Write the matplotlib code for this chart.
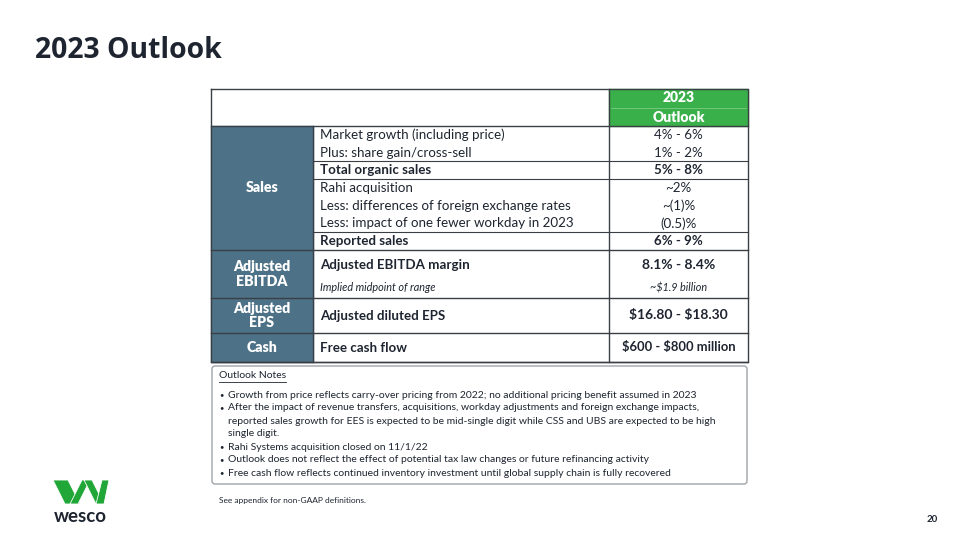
"""Recreates the 2023 Outlook slide table."""

import matplotlib.pyplot as plt
from matplotlib.patches import FancyBboxPatch, Polygon, Rectangle

plt.rcParams['font.family'] = ['Lato', 'DejaVu Sans']
plt.rcParams['text.parse_math'] = False

# Data
TITLE = '2023 Outlook'
HEADER = ['2023', 'Outlook']
GROUPS = ['Sales', 'Adjusted\nEBITDA', 'Adjusted\nEPS', 'Cash']
SALES_ITEMS = ['Market growth (including price)',
               'Plus: share gain/cross-sell',
               'Total organic sales',
               'Rahi acquisition',
               'Less: differences of foreign exchange rates',
               'Less: impact of one fewer workday in 2023',
               'Reported sales']
SALES_VALUES = ['4% - 6%', '1% - 2%', '5% - 8%', '~2%', '~(1)%', '(0.5)%',
                '6% - 9%']
SALES_BOLD = [False, False, True, False, False, False, True]
SALES_RULES = [2, 3, 6]
EBITDA_ITEMS = ['Adjusted EBITDA margin', 'Implied midpoint of range']
EBITDA_VALUES = ['8.1% - 8.4%', '~$1.9 billion']
EPS_ITEM = 'Adjusted diluted EPS'
EPS_VALUE = '$16.80 - $18.30'
CASH_ITEM = 'Free cash flow'
CASH_VALUE = '$600 - $800 million'
NOTES_TITLE = 'Outlook Notes'
NOTES = ['Growth from price reflects carry-over pricing from 2022; no additional '
         'pricing benefit assumed in 2023',
         'After the impact of revenue transfers, acquisitions, workday '
         'adjustments and foreign exchange impacts,\nreported sales growth for '
         'EES is expected to be mid-single digit while CSS and UBS are expected '
         'to be high\nsingle digit.',
         'Rahi Systems acquisition closed on 11/1/22',
         'Outlook does not reflect the effect of potential tax law changes or '
         'future refinancing activity',
         'Free cash flow reflects continued inventory investment until global '
         'supply chain is fully recovered']
FOOTNOTE = 'See appendix for non-GAAP definitions.'
PAGE = '20'

# Styles
GREEN = '#3AB04A'
STEEL = '#4D7186'
DARK = '#1E2530'
BORDER = '#3A3F45'
X0, X1, X2, X3 = 211, 313, 609, 748
TOP, HEAD = 89, 126
ROW_H = 17.7
BLOCKS = [HEAD, HEAD + ROW_H * 7, 298, 333, 362]


def cell_text(ax, x, y, s, bold=False, italic=False, ha='left', size=9.6,
              color=DARK):
    ax.text(x, y, s, ha=ha, va='center', fontsize=size, color=color,
            fontweight='bold' if bold else 'normal',
            fontstyle='italic' if italic else 'normal')


def main():
    fig = plt.figure(figsize=(9.6, 5.4), dpi=100)
    ax = fig.add_axes([0, 0, 1, 1])
    ax.set_xlim(0, 960)
    ax.set_ylim(540, 0)
    ax.axis('off')

    ax.text(35, 51, TITLE, fontsize=20.4, fontweight='bold', color=DARK,
            va='center', family=['Open Sans', 'DejaVu Sans'])

    # Header
    ax.add_patch(Rectangle((X2, TOP), X3 - X2, HEAD - TOP, color=GREEN,
                           zorder=1))
    ax.plot([X2 + 2, X3 - 2], [107.5, 107.5], color='#7CCB86', lw=0.6,
            zorder=2)
    for y, s in zip([98, 117], HEADER):
        ax.text((X2 + X3) / 2, y, s, ha='center', va='center', fontsize=10,
                fontweight='heavy', color='white')

    # Group label column
    ax.add_patch(Rectangle((X0, HEAD), X1 - X0, BLOCKS[-1] - HEAD,
                           color=STEEL, zorder=1))
    for i, name in enumerate(GROUPS):
        yc = (BLOCKS[i] + BLOCKS[i + 1]) / 2
        ax.text((X0 + X1) / 2, yc, name, ha='center', va='center',
                fontsize=10.2, fontweight='heavy', color='white',
                linespacing=1.15)

    # Sales rows
    for i, (item, val, bold) in enumerate(zip(SALES_ITEMS, SALES_VALUES,
                                              SALES_BOLD)):
        y = HEAD + ROW_H * (i + 0.5)
        cell_text(ax, X1 + 7, y, item, bold=bold)
        cell_text(ax, (X2 + X3) / 2, y, val, bold=bold, ha='center')
    for r in SALES_RULES:
        y = HEAD + ROW_H * r
        ax.plot([X1, X3], [y, y], color=BORDER, lw=0.8, zorder=3)

    # EBITDA rows
    ys = [BLOCKS[1] + 15, BLOCKS[1] + 38]
    for k, (item, val) in enumerate(zip(EBITDA_ITEMS, EBITDA_VALUES)):
        cell_text(ax, X1 + 7, ys[k], item, bold=(k == 0), italic=(k == 1),
                  size=9.6 if k == 0 else 7.8)
        cell_text(ax, (X2 + X3) / 2, ys[k], val, bold=(k == 0),
                  italic=(k == 1), ha='center', size=10 if k == 0 else 7.8)

    # EPS and cash rows
    sizes = [10, 9.4]
    for i, (item, val) in enumerate([(EPS_ITEM, EPS_VALUE),
                                     (CASH_ITEM, CASH_VALUE)]):
        yc = (BLOCKS[i + 2] + BLOCKS[i + 3]) / 2
        cell_text(ax, X1 + 7, yc, item, bold=True)
        cell_text(ax, (X2 + X3) / 2, yc, val, bold=True, ha='center',
                  size=sizes[i])

    # Grid lines
    for y in BLOCKS:
        ax.plot([X0, X3], [y, y], color=BORDER, lw=1.0, zorder=3)
    ax.plot([X0, X3, X3, X0, X0], [TOP, TOP, BLOCKS[-1], BLOCKS[-1], TOP],
            color=BORDER, lw=1.0, zorder=3)
    ax.plot([X1, X1], [HEAD, BLOCKS[-1]], color=BORDER, lw=1.0, zorder=3)
    ax.plot([X2, X2], [TOP, BLOCKS[-1]], color=BORDER, lw=1.0, zorder=3)

    # Notes box
    ax.add_patch(FancyBboxPatch((X0 + 1, 366), X3 - X0 - 2, 118,
                                boxstyle='round,pad=0,rounding_size=3',
                                fc='white', ec='#A0A4A8', lw=1.0))
    ax.text(219, 376, NOTES_TITLE, fontsize=7.5, color=DARK, va='center')
    ax.plot([219, 286], [381.5, 381.5], color=DARK, lw=0.6)
    y = 395
    for note in NOTES:
        ax.text(219, y, '\u2022', fontsize=5.5, color=DARK, va='center')
        for line in note.split('\n'):
            ax.text(228, y, line, fontsize=7.5, color=DARK, va='center')
            y += 13

    ax.text(219, 500, FOOTNOTE, fontsize=6, color=DARK, va='center')
    ax.text(938, 520, PAGE, fontsize=7, fontweight='bold', color=DARK,
            ha='right', va='center')

    # Logo
    shapes = [[(53, 480), (68, 480), (80, 504), (65, 504)],
              [(70, 504), (82, 480), (90, 480), (78, 504)],
              [(84, 480), (92, 480), (104, 504), (96, 504)],
              [(96, 504), (102, 480), (109, 480), (104, 504)]]
    for pts in shapes:
        ax.add_patch(Polygon(pts, closed=True, fc='#21A638', ec='white',
                             lw=0.6))
    ax.text(80.5, 516, 'wesco', fontsize=13.5, fontweight='bold', color=DARK,
            ha='center', va='center')

    fig.savefig('out.png', dpi=100)


if __name__ == '__main__':
    main()
